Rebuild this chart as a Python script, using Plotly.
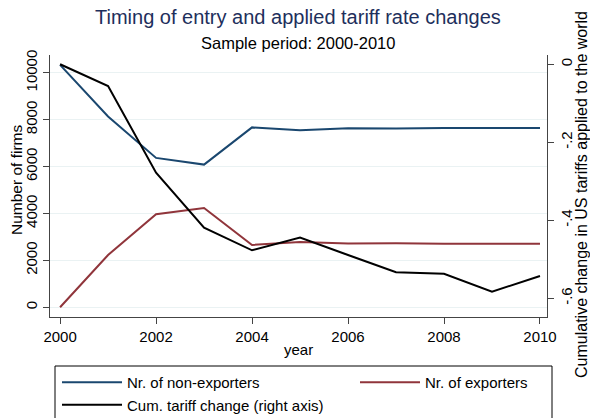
import plotly.graph_objects as go

years = [2000, 2001, 2002, 2003, 2004, 2005, 2006, 2007, 2008, 2009, 2010]
non_exporters = [10340, 8140, 6370, 6085, 7672, 7545, 7630, 7620, 7645, 7650, 7650]
exporters = [0, 2230, 3966, 4234, 2657, 2785, 2720, 2735, 2705, 2700, 2710]
tariff_change = [0.0, -0.056, -0.278, -0.419, -0.477, -0.444, -0.489, -0.533, -0.537, -0.583, -0.543]

left_ticks = [0, 2000, 4000, 6000, 8000, 10000]
left_labels = ["0", "2000", "4000", "6000", "8000", "10000"]
right_ticks = [0, -0.2, -0.4, -0.6]
right_labels = ["0", "-.2", "-.4", "-.6"]
x_ticks = [2000, 2002, 2004, 2006, 2008, 2010]

FONT = "Liberation Sans, Arial, sans-serif"
BLUE = "#1a476f"
RED = "#90353b"
GRID = "#eaf2f3"
AX = "#444444"

W, H = 590, 418
ML, MR, MT, MB = 50, 43, 55, 101
PW, PH = W - ML - MR, H - MT - MB


def px_x(px):
    return (px - ML) / PW


def px_y(py):
    return (H - MB - py) / PH


fig = go.Figure()
fig.add_trace(go.Scatter(x=years, y=non_exporters, mode="lines", name="Nr. of non-exporters",
                         line=dict(color=BLUE, width=2), legend="legend"))
fig.add_trace(go.Scatter(x=years, y=exporters, mode="lines", name="Nr. of exporters",
                         line=dict(color=RED, width=2), legend="legend2"))
fig.add_trace(go.Scatter(x=years, y=tariff_change, mode="lines", name="Cum. tariff change (right axis)",
                         line=dict(color="black", width=2), yaxis="y2", legend="legend"))

legend_common = dict(orientation="v", xanchor="left", yanchor="top", borderwidth=0,
                     bgcolor="rgba(0,0,0,0)", font=dict(size=15, family=FONT),
                     tracegroupgap=0, traceorder="normal", itemwidth=60)

fig.update_layout(
    width=W, height=H,
    margin=dict(l=ML, r=MR, t=MT, b=MB, autoexpand=False),
    paper_bgcolor="white", plot_bgcolor="white",
    font=dict(family=FONT, size=15, color="black"),
    showlegend=True,
    legend=dict(x=px_x(57), y=px_y(366), **legend_common),
    legend2=dict(x=px_x(355), y=px_y(366), **legend_common),
    xaxis=dict(range=[1999.79, 2010.146], tickvals=x_ticks, showgrid=False, zeroline=False,
               showline=True, linecolor=AX, linewidth=1, ticks="outside", ticklen=6,
               tickcolor=AX, automargin=False, tickfont=dict(size=15)),
    yaxis=dict(range=[-414, 10759], tickvals=left_ticks, ticktext=left_labels, tickangle=-90,
               showgrid=True, gridcolor=GRID, gridwidth=1, zeroline=False, showline=True,
               linecolor=AX, linewidth=1, ticks="outside", ticklen=6, tickcolor=AX,
               automargin=False, tickfont=dict(size=15)),
    yaxis2=dict(range=[-0.648, 0.0238], overlaying="y", side="right", tickvals=right_ticks,
                ticktext=right_labels, tickangle=-90, showgrid=False, zeroline=False,
                showline=True, linecolor=AX, linewidth=1, ticks="outside", ticklen=6,
                tickcolor=AX, automargin=False, tickfont=dict(size=15)),
    annotations=[
        dict(text="Timing of entry and applied tariff rate changes", x=px_x(298), y=px_y(17),
             xref="paper", yref="paper", showarrow=False, xanchor="center", yanchor="middle",
             font=dict(size=20, color="#1e2f5c", family=FONT)),
        dict(text="Sample period: 2000-2010", x=px_x(298), y=px_y(43),
             xref="paper", yref="paper", showarrow=False, xanchor="center", yanchor="middle",
             font=dict(size=16.5, color="black", family=FONT)),
        dict(text="year", x=px_x(298), y=px_y(349),
             xref="paper", yref="paper", showarrow=False, xanchor="center", yanchor="middle",
             font=dict(size=15, color="black", family=FONT)),
        dict(text="Number of firms", x=px_x(16), y=px_y(180), textangle=-90,
             xref="paper", yref="paper", showarrow=False, xanchor="center", yanchor="middle",
             font=dict(size=15.5, color="black", family=FONT)),
        dict(text="Cumulative change in US tariffs applied to the world", x=px_x(581), y=px_y(195),
             textangle=-90, xref="paper", yref="paper", showarrow=False,
             xanchor="center", yanchor="middle",
             font=dict(size=16, color="black", family=FONT)),
    ],
    shapes=[
        dict(type="rect", xref="paper", yref="paper", x0=px_x(55), x1=px_x(552),
             y0=px_y(366), y1=px_y(430), line=dict(color="black", width=1),
             fillcolor="rgba(0,0,0,0)", layer="above"),
    ],
)

fig.write_html("out.html", config={"displayModeBar": False},
               post_script="document.body.style.margin='0';document.body.style.overflow='hidden';")
